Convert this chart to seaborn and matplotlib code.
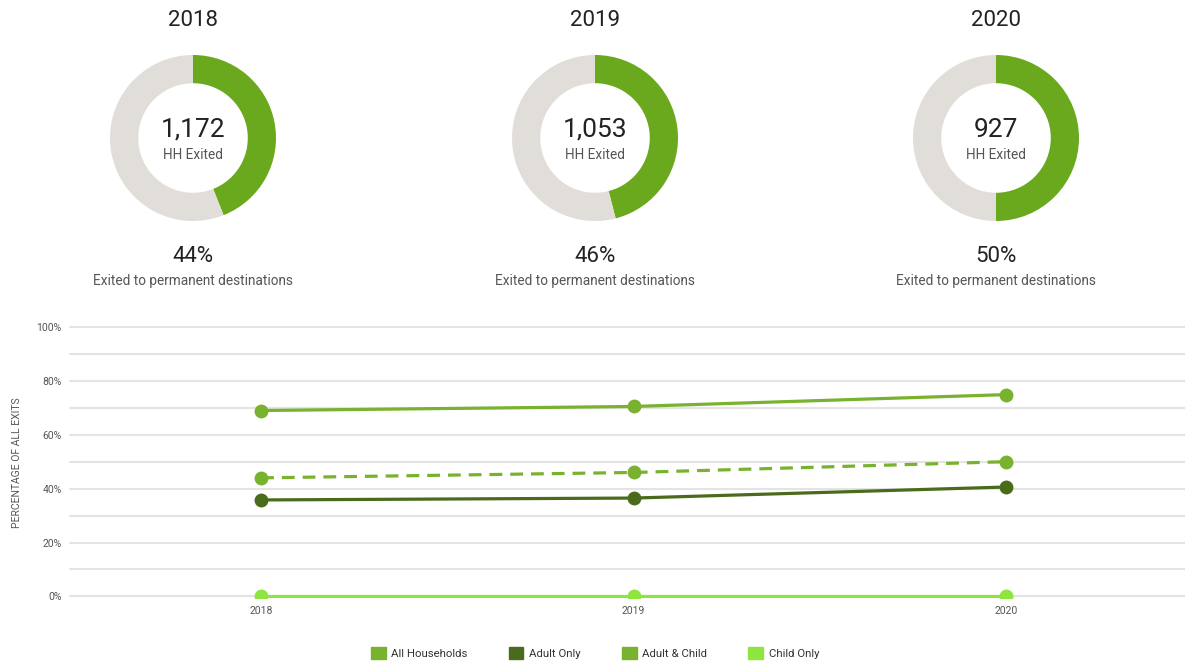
import matplotlib
matplotlib.use("Agg")
import matplotlib.pyplot as plt
import matplotlib.patches as mpatches
import pandas as pd
import seaborn as sns

years = ["2018", "2019", "2020"]
hh_exited = ["1,172", "1,053", "927"]
pct_permanent = [44, 46, 50]

groups = ["All Households", "Adult Only", "Adult & Child", "Child Only"]
all_households = [44, 46, 50]
adult_only = [35.8, 36.5, 40.6]
adult_child = [69.0, 70.5, 74.9]
child_only = [0, 0, 0]

colors = {
    "All Households": "#78b22e",
    "Adult Only": "#4a6b1c",
    "Adult & Child": "#78b22e",
    "Child Only": "#8ee53f",
}
donut_green = "#6aa81e"
donut_gray = "#e1ddd8"
text_dark = "#222222"
text_gray = "#555555"

sns.set_theme(style="white")
plt.rcParams["font.family"] = ["Roboto", "DejaVu Sans"]

W, H = 1185, 666
fig = plt.figure(figsize=(W / 100, H / 100), dpi=100)

# donuts
centers_x = [193, 595, 996]
cy = 138
r_px = 83
for i, year in enumerate(years):
    cx = centers_x[i]
    ax = fig.add_axes([(cx - r_px) / W, 1 - (cy + r_px) / H, 2 * r_px / W, 2 * r_px / H])
    p = pct_permanent[i]
    ax.pie([p, 100 - p], colors=[donut_green, donut_gray], startangle=90, counterclock=False,
           wedgeprops=dict(width=0.34, edgecolor="none"), radius=1.0)
    ax.set_xlim(-1, 1)
    ax.set_ylim(-1, 1)
    ax.set_aspect("equal")
    ax.text(0, 0.1, hh_exited[i], ha="center", va="center", fontsize=19, color=text_dark)
    ax.text(0, -0.2, "HH Exited", ha="center", va="center", fontsize=9.8, color=text_gray)
    fig.text(cx / W, 1 - 21 / H, year, ha="center", va="center", fontsize=16, color=text_dark)
    fig.text(cx / W, 1 - 256 / H, f"{p}%", ha="center", va="center", fontsize=16, color=text_dark)
    fig.text(cx / W, 1 - 281 / H, "Exited to permanent destinations", ha="center", va="center",
             fontsize=9.8, color=text_gray)

# line chart
rows = []
for name, vals in zip(groups, [all_households, adult_only, adult_child, child_only]):
    for yi, v in enumerate(vals):
        rows.append({"x": yi, "value": v, "group": name})
df = pd.DataFrame(rows)

left, right, bottom, top = 70, 1185, 598, 327
lax = fig.add_axes([left / W, 1 - bottom / H, (right - left) / W, (bottom - top) / H])
for yv in range(0, 101, 10):
    lax.axhline(yv, color="#e4e4e4", lw=1.5, zorder=0, clip_on=False)

draw_order = ["Child Only", "Adult Only", "Adult & Child", "All Households"]
for name in draw_order:
    sub = df[df["group"] == name]
    ls = (0, (4, 2.5)) if name == "All Households" else "-"
    sns.lineplot(data=sub, x="x", y="value", ax=lax, color=colors[name], lw=2.3, linestyle=ls,
                 marker="o", markersize=10, markeredgewidth=0, legend=False, zorder=3)

lax.set_xlim(-0.513, 2.48)
lax.set_ylim(-0.6, 100)
lax.set_xticks(range(len(years)))
lax.set_xticklabels(years, fontsize=7.5, color=text_gray)
lax.set_yticks(range(0, 101, 20))
lax.set_yticklabels([f"{v}%" for v in range(0, 101, 20)], fontsize=7.5, color=text_gray)
lax.tick_params(axis="both", length=0, pad=6)
lax.set_xlabel("")
lax.set_ylabel("")
for s in lax.spines.values():
    s.set_visible(False)
fig.text(17 / W, 1 - 463 / H, "PERCENTAGE OF ALL EXITS", rotation=90, ha="center", va="center",
         fontsize=7.5, color=text_gray)

handles = [mpatches.Patch(color=colors[g], label=g) for g in groups]
fig.legend(handles=handles, loc="center", bbox_to_anchor=(595 / W, 1 - 653 / H), ncol=4,
           frameon=False, fontsize=8.2, handlelength=1.3, handleheight=1.3, columnspacing=3.6,
           handletextpad=0.5, labelcolor="#333333")

fig.savefig("out.png", dpi=100)
